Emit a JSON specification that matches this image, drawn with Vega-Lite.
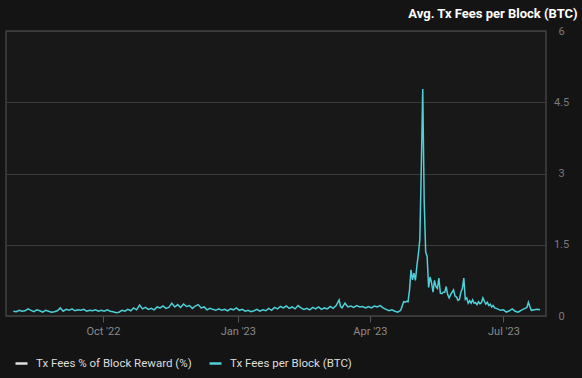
{
  "$schema": "https://vega.github.io/schema/vega-lite/v6.json",
  "autosize": {"type": "none"},
  "width": 540,
  "height": 285,
  "padding": {"left": 6, "top": 31, "right": 36, "bottom": 62},
  "background": "#141414",
  "config": {
    "view": {"fill": "#181818", "stroke": "#404040", "strokeWidth": 1.5},
    "font": "Roboto"
  },
  "data": {"values": [
    {"date":"2022-08-01","fees":0.10},{"date":"2022-08-03","fees":0.09},{"date":"2022-08-05","fees":0.12},{"date":"2022-08-07","fees":0.10},{"date":"2022-08-09","fees":0.11},{"date":"2022-08-11","fees":0.15},{"date":"2022-08-13","fees":0.12},{"date":"2022-08-15","fees":0.09},{"date":"2022-08-17","fees":0.13},{"date":"2022-08-19","fees":0.11},{"date":"2022-08-21","fees":0.08},{"date":"2022-08-23","fees":0.12},{"date":"2022-08-25","fees":0.10},{"date":"2022-08-27","fees":0.08},{"date":"2022-08-29","fees":0.09},{"date":"2022-08-31","fees":0.11},
    {"date":"2022-09-02","fees":0.17},{"date":"2022-09-04","fees":0.10},{"date":"2022-09-06","fees":0.14},{"date":"2022-09-08","fees":0.12},{"date":"2022-09-10","fees":0.15},{"date":"2022-09-12","fees":0.11},{"date":"2022-09-14","fees":0.13},{"date":"2022-09-16","fees":0.12},{"date":"2022-09-18","fees":0.14},{"date":"2022-09-20","fees":0.10},{"date":"2022-09-22","fees":0.12},{"date":"2022-09-24","fees":0.11},{"date":"2022-09-26","fees":0.13},{"date":"2022-09-28","fees":0.10},{"date":"2022-09-30","fees":0.12},
    {"date":"2022-10-02","fees":0.10},{"date":"2022-10-04","fees":0.13},{"date":"2022-10-06","fees":0.10},{"date":"2022-10-08","fees":0.09},{"date":"2022-10-10","fees":0.07},{"date":"2022-10-12","fees":0.08},{"date":"2022-10-14","fees":0.12},{"date":"2022-10-16","fees":0.10},{"date":"2022-10-18","fees":0.14},{"date":"2022-10-20","fees":0.11},{"date":"2022-10-22","fees":0.17},{"date":"2022-10-24","fees":0.13},{"date":"2022-10-26","fees":0.23},{"date":"2022-10-28","fees":0.15},{"date":"2022-10-30","fees":0.18},
    {"date":"2022-11-01","fees":0.14},{"date":"2022-11-03","fees":0.16},{"date":"2022-11-05","fees":0.13},{"date":"2022-11-07","fees":0.19},{"date":"2022-11-09","fees":0.17},{"date":"2022-11-11","fees":0.21},{"date":"2022-11-13","fees":0.16},{"date":"2022-11-15","fees":0.18},{"date":"2022-11-17","fees":0.27},{"date":"2022-11-19","fees":0.19},{"date":"2022-11-21","fees":0.24},{"date":"2022-11-23","fees":0.18},{"date":"2022-11-25","fees":0.25},{"date":"2022-11-27","fees":0.20},{"date":"2022-11-29","fees":0.22},
    {"date":"2022-12-01","fees":0.16},{"date":"2022-12-03","fees":0.21},{"date":"2022-12-05","fees":0.24},{"date":"2022-12-07","fees":0.17},{"date":"2022-12-09","fees":0.19},{"date":"2022-12-11","fees":0.13},{"date":"2022-12-13","fees":0.16},{"date":"2022-12-15","fees":0.14},{"date":"2022-12-17","fees":0.12},{"date":"2022-12-19","fees":0.15},{"date":"2022-12-21","fees":0.12},{"date":"2022-12-23","fees":0.14},{"date":"2022-12-25","fees":0.11},{"date":"2022-12-27","fees":0.15},{"date":"2022-12-29","fees":0.13},{"date":"2022-12-31","fees":0.17},
    {"date":"2023-01-02","fees":0.12},{"date":"2023-01-04","fees":0.14},{"date":"2023-01-06","fees":0.10},{"date":"2023-01-08","fees":0.12},{"date":"2023-01-10","fees":0.09},{"date":"2023-01-12","fees":0.11},{"date":"2023-01-14","fees":0.14},{"date":"2023-01-16","fees":0.10},{"date":"2023-01-18","fees":0.13},{"date":"2023-01-20","fees":0.11},{"date":"2023-01-22","fees":0.16},{"date":"2023-01-24","fees":0.12},{"date":"2023-01-26","fees":0.18},{"date":"2023-01-28","fees":0.15},{"date":"2023-01-30","fees":0.20},
    {"date":"2023-02-01","fees":0.17},{"date":"2023-02-03","fees":0.21},{"date":"2023-02-05","fees":0.16},{"date":"2023-02-07","fees":0.19},{"date":"2023-02-09","fees":0.15},{"date":"2023-02-11","fees":0.22},{"date":"2023-02-13","fees":0.17},{"date":"2023-02-15","fees":0.14},{"date":"2023-02-17","fees":0.16},{"date":"2023-02-19","fees":0.13},{"date":"2023-02-21","fees":0.18},{"date":"2023-02-23","fees":0.15},{"date":"2023-02-25","fees":0.19},{"date":"2023-02-27","fees":0.14},
    {"date":"2023-03-01","fees":0.17},{"date":"2023-03-03","fees":0.15},{"date":"2023-03-05","fees":0.20},{"date":"2023-03-07","fees":0.16},{"date":"2023-03-09","fees":0.22},{"date":"2023-03-11","fees":0.34},{"date":"2023-03-12","fees":0.20},{"date":"2023-03-13","fees":0.17},{"date":"2023-03-15","fees":0.27},{"date":"2023-03-17","fees":0.19},{"date":"2023-03-19","fees":0.21},{"date":"2023-03-21","fees":0.18},{"date":"2023-03-23","fees":0.22},{"date":"2023-03-25","fees":0.19},{"date":"2023-03-27","fees":0.20},{"date":"2023-03-29","fees":0.17},{"date":"2023-03-31","fees":0.20},
    {"date":"2023-04-02","fees":0.17},{"date":"2023-04-04","fees":0.21},{"date":"2023-04-06","fees":0.19},{"date":"2023-04-08","fees":0.22},{"date":"2023-04-10","fees":0.17},{"date":"2023-04-12","fees":0.14},{"date":"2023-04-14","fees":0.11},{"date":"2023-04-16","fees":0.13},{"date":"2023-04-18","fees":0.10},{"date":"2023-04-20","fees":0.08},{"date":"2023-04-22","fees":0.12},{"date":"2023-04-24","fees":0.30},{"date":"2023-04-25","fees":0.29},{"date":"2023-04-26","fees":0.31},{"date":"2023-04-27","fees":0.30},{"date":"2023-04-28","fees":0.55},{"date":"2023-04-29","fees":0.97},{"date":"2023-04-30","fees":0.76},
    {"date":"2023-05-01","fees":0.90},{"date":"2023-05-02","fees":0.75},{"date":"2023-05-03","fees":1.05},{"date":"2023-05-04","fees":1.30},{"date":"2023-05-05","fees":1.60},{"date":"2023-05-06","fees":3.10},{"date":"2023-05-07","fees":4.78},{"date":"2023-05-08","fees":2.40},{"date":"2023-05-09","fees":1.35},{"date":"2023-05-10","fees":1.25},{"date":"2023-05-11","fees":0.60},{"date":"2023-05-12","fees":0.82},{"date":"2023-05-13","fees":0.70},{"date":"2023-05-14","fees":0.50},{"date":"2023-05-15","fees":0.75},{"date":"2023-05-16","fees":0.62},{"date":"2023-05-17","fees":0.58},{"date":"2023-05-18","fees":0.80},{"date":"2023-05-19","fees":0.48},{"date":"2023-05-20","fees":0.47},{"date":"2023-05-21","fees":0.50},{"date":"2023-05-22","fees":0.50},{"date":"2023-05-23","fees":0.62},{"date":"2023-05-24","fees":0.45},{"date":"2023-05-25","fees":0.38},{"date":"2023-05-26","fees":0.45},{"date":"2023-05-27","fees":0.50},{"date":"2023-05-28","fees":0.55},{"date":"2023-05-29","fees":0.42},{"date":"2023-05-30","fees":0.40},{"date":"2023-05-31","fees":0.33},
    {"date":"2023-06-01","fees":0.35},{"date":"2023-06-02","fees":0.50},{"date":"2023-06-03","fees":0.58},{"date":"2023-06-04","fees":0.80},{"date":"2023-06-05","fees":0.35},{"date":"2023-06-06","fees":0.38},{"date":"2023-06-07","fees":0.27},{"date":"2023-06-08","fees":0.32},{"date":"2023-06-09","fees":0.27},{"date":"2023-06-10","fees":0.34},{"date":"2023-06-11","fees":0.27},{"date":"2023-06-12","fees":0.28},{"date":"2023-06-13","fees":0.24},{"date":"2023-06-14","fees":0.30},{"date":"2023-06-15","fees":0.26},{"date":"2023-06-16","fees":0.28},{"date":"2023-06-17","fees":0.38},{"date":"2023-06-18","fees":0.31},{"date":"2023-06-19","fees":0.25},{"date":"2023-06-20","fees":0.29},{"date":"2023-06-21","fees":0.22},{"date":"2023-06-22","fees":0.25},{"date":"2023-06-23","fees":0.19},{"date":"2023-06-24","fees":0.22},{"date":"2023-06-25","fees":0.17},{"date":"2023-06-27","fees":0.15},{"date":"2023-06-29","fees":0.12},
    {"date":"2023-07-01","fees":0.13},{"date":"2023-07-03","fees":0.08},{"date":"2023-07-05","fees":0.11},{"date":"2023-07-07","fees":0.15},{"date":"2023-07-09","fees":0.10},{"date":"2023-07-11","fees":0.08},{"date":"2023-07-13","fees":0.12},{"date":"2023-07-15","fees":0.15},{"date":"2023-07-17","fees":0.18},{"date":"2023-07-18","fees":0.29},{"date":"2023-07-19","fees":0.20},{"date":"2023-07-20","fees":0.12},{"date":"2023-07-22","fees":0.13},{"date":"2023-07-24","fees":0.14},{"date":"2023-07-26","fees":0.13}
  ]},
  "mark": {"type": "line", "strokeWidth": 1.5, "interpolate": "linear"},
  "encoding": {
    "x": {
      "field": "date", "type": "temporal",
      "scale": {"domain": [{"year": 2022, "month": 7, "date": 27}, {"year": 2023, "month": 7, "date": 30}]},
      "axis": {
        "title": null,
        "values": [{"year": 2022, "month": 10, "date": 1}, {"year": 2023, "month": 1, "date": 1}, {"year": 2023, "month": 4, "date": 1}, {"year": 2023, "month": 7, "date": 1}],
        "format": "%b '%y",
        "grid": false,
        "domain": false,
        "tickColor": "#555555",
        "tickSize": 6,
        "labelColor": "#8a8a8a",
        "labelFontSize": 11,
        "labelPadding": 3
      }
    },
    "y": {
      "field": "fees", "type": "quantitative",
      "scale": {"domain": [0, 6], "nice": false},
      "axis": {
        "orient": "right",
        "values": [0, 1.5, 3, 4.5, 6],
        "format": ".2~g",
        "labelOverlap": false,
        "ticks": false,
        "domain": false,
        "gridColor": "#3c3c3c",
        "gridWidth": 1,
        "labelColor": "#7a7a7a",
        "labelFontSize": 11,
        "labelAlign": "center",
        "labelPadding": 15,
        "title": "Avg. Tx Fees per Block (BTC)",
        "titleAngle": 0,
        "titleAlign": "right",
        "titleBaseline": "middle",
        "titleX": 31,
        "titleY": -18,
        "titleColor": "#ffffff",
        "titleFontSize": 13,
        "titleFontWeight": "bold",
        "titleFont": "Roboto"
      }
    },
    "color": {
      "datum": "Tx Fees per Block (BTC)",
      "type": "nominal",
      "scale": {"domain": ["Tx Fees % of Block Reward (%)", "Tx Fees per Block (BTC)"], "range": ["#e0e0e0", "#4fd0d8"]},
      "legend": {
        "title": null,
        "orient": "none",
        "direction": "horizontal",
        "legendX": 8,
        "legendY": 325,
        "symbolType": "stroke",
        "symbolSize": 144,
        "symbolStrokeWidth": 2.5,
        "labelColor": "#dddddd",
        "labelFontSize": 11.5,
        "labelLimit": 400,
        "columnPadding": 12,
        "labelOffset": 7
      }
    }
  }
}
